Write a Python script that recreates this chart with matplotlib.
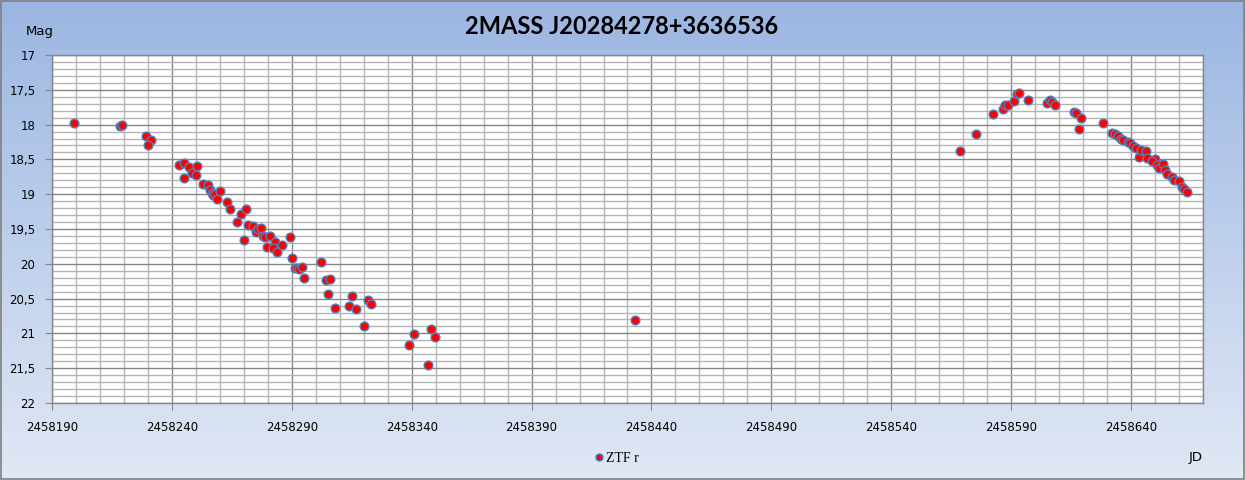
import numpy as np
import matplotlib
matplotlib.use("Agg")
import matplotlib.pyplot as plt
from matplotlib.ticker import MultipleLocator, FuncFormatter

title = "2MASS J20284278+3636536"
series_name = "ZTF r"

jd = [
    2458199.3, 2458218.3, 2458219.2, 2458229.2, 2458231.4, 2458230.1,
    2458242.8, 2458245.1, 2458245.1, 2458247.2, 2458248.2, 2458250.3, 2458250.0,
    2458253.0, 2458255.1, 2458255.8, 2458256.8, 2458257.2, 2458257.9, 2458260.0,
    2458259.0, 2458262.9, 2458264.2, 2458267.1, 2458269.0, 2458271.0, 2458270.0,
    2458271.8, 2458274.0, 2458275.3, 2458274.9, 2458276.0, 2458277.0, 2458277.8,
    2458279.0, 2458280.8, 2458283.0, 2458279.7, 2458282.0, 2458283.9, 2458286.1,
    2458289.2, 2458290.0, 2458291.25, 2458292.2, 2458293.0, 2458294.2, 2458295.0,
    2458302.0, 2458304.2, 2458305.8, 2458305.0, 2458308.0, 2458313.75, 2458315.0,
    2458316.8, 2458320.0, 2458321.7, 2458322.9, 2458338.75, 2458340.8, 2458346.7,
    2458347.9, 2458349.9,
    2458433.3,
    2458568.5, 2458575.4, 2458582.4, 2458586.4, 2458587.5, 2458588.5, 2458591.25,
    2458592.6, 2458593.3, 2458597.2, 2458605.1, 2458606.25, 2458607.2, 2458608.2,
    2458616.1, 2458617.0, 2458619.2, 2458618.3, 2458628.2,
    2458632.1, 2458633.3, 2458634.4, 2458635.96, 2458636.8, 2458638.6, 2458639.6,
    2458641.0, 2458642.1, 2458643.3, 2458644.0, 2458646.25, 2458646.8, 2458650.0,
    2458648.9, 2458651.0, 2458651.7, 2458653.3, 2458654.2, 2458654.9, 2458656.9,
    2458658.0, 2458660.0, 2458661.1, 2458662.2, 2458663.2,
]
mag = [
    17.97, 18.02, 18.00, 18.17, 18.22, 18.30,
    18.585, 18.556, 18.77, 18.61, 18.70, 18.59, 18.72,
    18.85, 18.87, 18.94, 18.98, 19.01, 19.00, 18.96,
    19.07, 19.11, 19.21, 19.40, 19.28, 19.21, 19.66,
    19.44, 19.46, 19.51, 19.55, 19.50, 19.48, 19.60,
    19.62, 19.60, 19.68, 19.76, 19.78, 19.83, 19.73,
    19.62, 19.91, 20.06, 20.06, 20.08, 20.04, 20.21,
    19.97, 20.23, 20.22, 20.43, 20.64, 20.61, 20.46,
    20.65, 20.89, 20.52, 20.58, 21.17, 21.01, 21.46,
    20.94, 21.05,
    20.81,
    18.38, 18.135, 17.85, 17.78, 17.72, 17.72, 17.665,
    17.565, 17.55, 17.65, 17.685, 17.65, 17.68, 17.72,
    17.82, 17.84, 17.90, 18.06, 17.98,
    18.125, 18.14, 18.16, 18.20, 18.22, 18.25, 18.27,
    18.31, 18.34, 18.46, 18.365, 18.38, 18.48, 18.49,
    18.53, 18.575, 18.63, 18.57, 18.65, 18.705, 18.76,
    18.79, 18.81, 18.90, 18.93, 18.97,
]

W, H = 1245, 480
fig = plt.figure(figsize=(W / 100, H / 100), dpi=100)

# background gradient
bg = fig.add_axes([0, 0, 1, 1], zorder=-10)
grad = np.linspace(0, 1, 256).reshape(-1, 1)
top = np.array([155, 182, 226]) / 255.0
bot = np.array([225, 232, 245]) / 255.0
img = top[None, None, :] * (1 - grad[:, :, None]) + bot[None, None, :] * grad[:, :, None]
bg.imshow(img, aspect="auto", extent=[0, 1, 0, 1], origin="upper")
bg.set_xlim(0, 1)
bg.set_ylim(0, 1)
bg.axis("off")
bg.add_patch(plt.Rectangle((0.0008, 0.002), 0.9984, 0.996, fill=False,
                           edgecolor="#808080", linewidth=1.2, transform=bg.transAxes))

left, right, topp, bottom = 52, 1203, 55, 403
ax = fig.add_axes([left / W, 1 - bottom / H, (right - left) / W, (bottom - topp) / H])
ax.set_facecolor("white")

x0 = 2458190
ax.set_xlim(x0, 2458670)
ax.set_ylim(22, 17)
ax.xaxis.set_major_locator(MultipleLocator(50, offset=x0 % 50))
ax.xaxis.set_minor_locator(MultipleLocator(10))
ax.yaxis.set_major_locator(MultipleLocator(0.5))
ax.yaxis.set_minor_locator(MultipleLocator(0.1))
ax.grid(which="minor", color="#b4b4b4", linewidth=1.0)
ax.grid(which="major", color="#868686", linewidth=1.0)
ax.set_axisbelow(True)

def yfmt(v, pos):
    return ("%g" % v).replace(".", ",")
ax.yaxis.set_major_formatter(FuncFormatter(yfmt))
ax.xaxis.set_major_formatter(FuncFormatter(lambda v, p: "%d" % round(v)))

ax.tick_params(axis="both", which="major", direction="out", length=5,
               color="#868686", labelsize=8.5, labelcolor="black")
ax.tick_params(axis="x", which="major", pad=8)
ax.tick_params(axis="y", which="major", pad=7)
ax.tick_params(which="minor", length=0)
for s in ax.spines.values():
    s.set_color("#868686")
    s.set_linewidth(1.0)

ax.plot(jd, mag, linestyle="none", marker="o", markersize=6.3,
        markerfacecolor="#ff0000", markeredgecolor="#4f81bd", markeredgewidth=1.0,
        label=series_name, zorder=3, clip_on=False)

fig.text(622 / W, 1 - 27 / H, title, ha="center", va="center",
         fontsize=17, fontweight="bold", family="Lato", color="black")
fig.text(26 / W, 1 - 31 / H, "Mag", ha="left", va="center", fontsize=9.5, color="black")
fig.text(1196 / W, 1 - 458 / H, "JD", ha="center", va="center", fontsize=9.5, color="black")

leg = fig.legend(loc="center", bbox_to_anchor=(616 / W, 1 - 458 / H), frameon=False,
                 handletextpad=0.1, markerscale=0.8, handlelength=0.8,
                 prop={"family": "Liberation Serif", "size": 10})

fig.savefig("out.png", dpi=100)
